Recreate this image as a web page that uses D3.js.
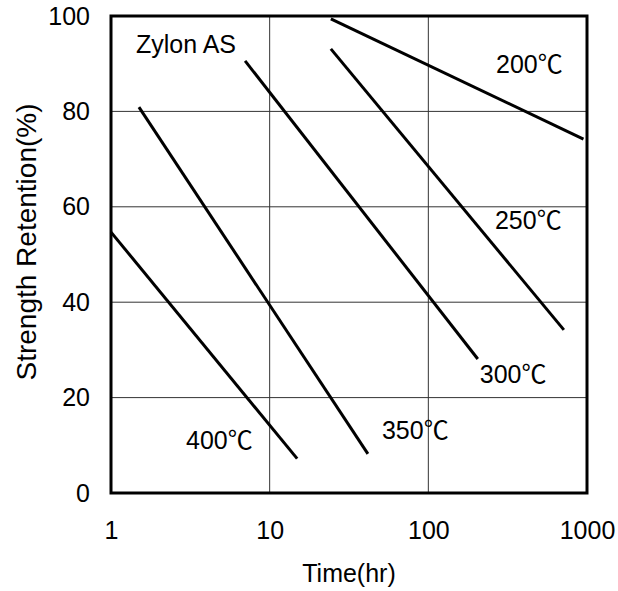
<!DOCTYPE html>
<html><head><meta charset="utf-8">
<script src="https://cdn.jsdelivr.net/npm/d3@7"></script>
<style>
body{margin:0;background:#fff;}
text{font-family:Arial,"Liberation Sans","Noto Sans CJK JP",sans-serif;fill:#000;}
</style></head>
<body><svg id="c" width="618" height="591"></svg>
<script>
const xTicks = [1, 10, 100, 1000];
const yTicks = [0, 20, 40, 60, 80, 100];
const seriesNames = ["200℃", "250℃", "300℃", "350℃", "400℃"];
const seriesStart = [[24.3, 99.4], [24.3, 93.1], [7.0, 90.6], [1.5, 80.9], [1.0, 54.7]];
const seriesEnd = [[950, 74.2], [715, 34.2], [205, 28.1], [41.6, 8.2], [14.9, 7.2]];
// label anchor (time, retention) for each series label
const labelPos = [[267, 88.0], [263, 55.3], [211, 23.1], [51, 11.3], [2.97, 9.2]];
const title = "Zylon AS";
const titlePos = [1.437, 92.2];

const svg = d3.select("#c");
const L = 111, R = 587, T = 16, B = 493;
const x = d3.scaleLog().domain([1, 1000]).range([L, R]);
const y = d3.scaleLinear().domain([0, 100]).range([B, T]);
const fs = 25;

// gridlines
const g = svg.append("g");
g.selectAll(".hg").data(yTicks.filter(d => d > 0 && d < 100)).join("line")
  .attr("x1", L).attr("x2", R).attr("y1", d => y(d)).attr("y2", d => y(d))
  .attr("stroke", "#333").attr("stroke-width", 1);
g.selectAll(".vg").data(xTicks.filter(d => d > 1 && d < 1000)).join("line")
  .attr("y1", T).attr("y2", B).attr("x1", d => x(d)).attr("x2", d => x(d))
  .attr("stroke", "#333").attr("stroke-width", 1);

// axes (labels only)
const xa = svg.append("g").attr("transform", `translate(0,${B})`)
  .call(d3.axisBottom(x).tickValues(xTicks).tickFormat(d3.format("d")).tickSize(0).tickPadding(28));
xa.select(".domain").remove();
xa.selectAll("text").attr("font-size", fs).attr("font-family", null);
const ya = svg.append("g").attr("transform", `translate(${L},0)`)
  .call(d3.axisLeft(y).tickValues(yTicks).tickSize(0).tickPadding(21));
ya.select(".domain").remove();
ya.selectAll("text").attr("font-size", fs).attr("font-family", null);

// lines
const line = d3.line().x(d => x(d[0])).y(d => y(d[1]));
svg.selectAll(".ser").data(seriesNames.map((n, i) => [seriesStart[i], seriesEnd[i]])).join("path")
  .attr("d", line).attr("fill", "none").attr("stroke", "#000").attr("stroke-width", 3);

// frame
svg.append("rect").attr("x", L).attr("y", T).attr("width", R - L).attr("height", B - T)
  .attr("fill", "none").attr("stroke", "#000").attr("stroke-width", 3);

// series labels
svg.selectAll(".lab").data(seriesNames).join("text")
  .attr("x", (d, i) => x(labelPos[i][0])).attr("y", (d, i) => y(labelPos[i][1]))
  .attr("font-size", fs).text(d => d);

svg.append("text").attr("x", x(titlePos[0])).attr("y", y(titlePos[1])).attr("font-size", fs).text(title);

// axis titles
svg.append("text").attr("x", (L + R) / 2).attr("y", 582).attr("text-anchor", "middle")
  .attr("font-size", fs).text("Time(hr)");
svg.append("text").attr("transform", `translate(36,242) rotate(-90)`)
  .attr("text-anchor", "middle").attr("font-size", 28).text("Strength Retention(%)");
</script></body></html>
